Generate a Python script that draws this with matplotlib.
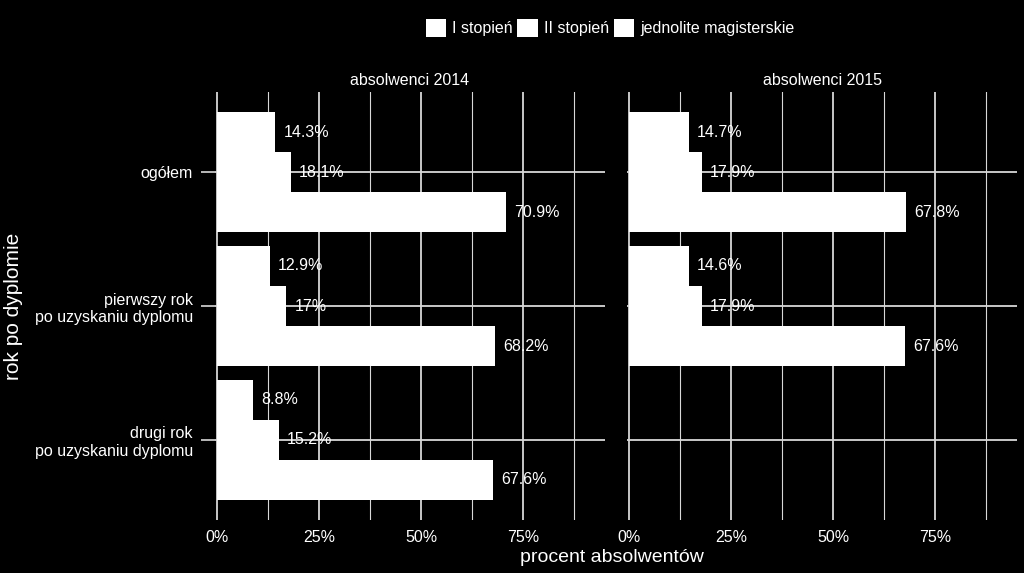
import numpy as np
import matplotlib
matplotlib.use("Agg")
import matplotlib.pyplot as plt
from matplotlib.patches import Patch

plt.rcParams['font.family'] = ['Liberation Sans', 'DejaVu Sans']

# dane
kategorie = ['ogółem', 'pierwszy rok\npo uzyskaniu dyplomu', 'drugi rok\npo uzyskaniu dyplomu']
stopnie = ['I stopień', 'II stopień', 'jednolite magisterskie']
panele = ['absolwenci 2014', 'absolwenci 2015']

# wartości w procentach: [kategoria][stopień]
abs_2014 = [[14.3, 18.1, 70.9],
            [12.9, 17.0, 68.2],
            [8.8, 15.2, 67.6]]
abs_2015 = [[14.7, 17.9, 67.8],
            [14.6, 17.9, 67.6],
            [np.nan, np.nan, np.nan]]
dane = [abs_2014, abs_2015]

fig = plt.figure(figsize=(10.24, 5.73), dpi=100, facecolor='black')

fs = 11.5
szer_grupy = 0.9
szer = szer_grupy / 3
pozycje = [(215 / 1024, 0.0925, 0.3809, 0.7469), (627 / 1024, 0.0925, 0.3809, 0.7469)]
grid_kolor = '#d8d8d8'

for i, (tytul, wartosci) in enumerate(zip(panele, dane)):
    ax = fig.add_axes(pozycje[i])
    ax.set_facecolor('black')
    for s in ax.spines.values():
        s.set_visible(False)

    # linie siatki
    for x in [0, 25, 50, 75]:
        ax.axvline(x, color=grid_kolor, lw=1.3, zorder=0)
    for x in [12.5, 37.5, 62.5, 87.5]:
        ax.axvline(x, color=grid_kolor, lw=0.8, zorder=0)
    for y in range(1, 4):
        ax.axhline(y, color=grid_kolor, lw=1.3, zorder=0)

    wart = np.array(wartosci)
    for k in range(len(kategorie)):
        for j in range(len(stopnie)):
            v = wart[k, j]
            if np.isnan(v):
                continue
            y = (k + 1) - szer_grupy / 2 + szer * (j + 0.5)
            ax.barh(y, v, height=szer, color='white', edgecolor='none', zorder=2)
            ax.text(v + 2, y, '{:g}%'.format(v), color='white', fontsize=fs,
                    ha='left', va='center', zorder=3)

    ax.set_xlim(-0.5, 95.1)
    ax.set_ylim(3.6, 0.4)
    ax.set_xticks([0, 25, 50, 75])
    ax.set_xticklabels(['0%', '25%', '50%', '75%'])
    ax.tick_params(axis='x', colors='white', labelsize=fs, length=0, pad=7)
    ax.set_yticks([1, 2, 3])
    if i == 0:
        ax.set_yticklabels(kategorie)
        ax.tick_params(axis='y', colors=grid_kolor, labelcolor='white', labelsize=fs,
                       length=10, width=1.2, pad=6)
    else:
        ax.set_yticklabels([])
        ax.tick_params(axis='y', length=0)
    ax.set_title(tytul, color='white', fontsize=fs, pad=5)

fig.text(612 / 1024, 1 - 557 / 573, 'procent absolwentów', color='white',
         fontsize=14, ha='center', va='center')
fig.text(14 / 1024, 1 - 306 / 573, 'rok po dyplomie', color='white',
         fontsize=15, ha='center', va='center', rotation=90)

uchwyty = [Patch(facecolor='white', edgecolor='none') for _ in stopnie]
fig.legend(uchwyty, stopnie, loc='center', bbox_to_anchor=(610 / 1024, 1 - 28 / 573),
           ncol=3, frameon=False, fontsize=fs, labelcolor='white',
           handlelength=1.3, handleheight=1.3, handletextpad=0.35, columnspacing=0.3)

fig.savefig('out.png', dpi=100, facecolor='black')
